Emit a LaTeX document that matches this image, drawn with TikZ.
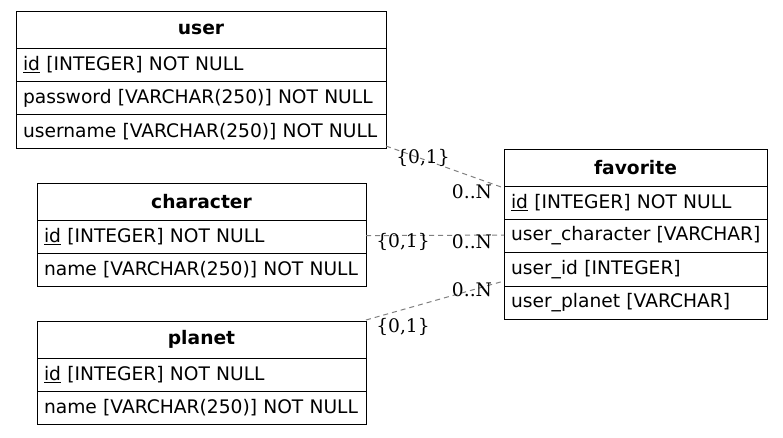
\documentclass[tikz,border=0pt]{standalone}
\usepackage{fontspec}
\setmainfont{DejaVu Sans}
\newfontfamily\cardfont{DejaVu Serif}
\usetikzlibrary{calc}
\begin{document}
\begin{tikzpicture}[x=0.75pt,y=-0.75pt,
  font=\fontsize{14pt}{16pt}\selectfont,
  cell/.style={draw=black, line width=0.75pt, anchor=north west, inner xsep=5.25pt,
    inner ysep=0pt, outer sep=0pt, align=left, minimum height=25pt},
  head/.style={cell, align=center, minimum height=27.75pt,
    font=\fontsize{14pt}{16pt}\selectfont\bfseries},
  userw/.style={text width=267pt},
  charw/.style={text width=236.25pt},
  favw/.style={text width=186.75pt},
  rel/.style={draw=gray, line width=0.75pt, dash pattern=on 3.75pt off 3pt},
  card/.style={inner sep=0pt, font=\fontsize{14pt}{16pt}\selectfont\cardfont}]
\useasboundingbox (0,0) rectangle (783,437);

% user
\node[head, userw] (uh) at (16,11) {user};
\node[cell, userw] (u1) at (uh.south west) {\underline{id} [INTEGER] NOT NULL};
\node[cell, userw] (u2) at (u1.south west) {password [VARCHAR(250)] NOT NULL};
\node[cell, userw] (u3) at (u2.south west) {username [VARCHAR(250)] NOT NULL};

% character
\node[head, charw] (ch) at (37,183) {character};
\node[cell, charw] (c1) at (ch.south west) {\underline{id} [INTEGER] NOT NULL};
\node[cell, charw] (c2) at (c1.south west) {name [VARCHAR(250)] NOT NULL};

% planet
\node[head, charw] (ph) at (37,321) {planet};
\node[cell, charw] (p1) at (ph.south west) {\underline{id} [INTEGER] NOT NULL};
\node[cell, charw] (p2) at (p1.south west) {name [VARCHAR(250)] NOT NULL};

% favorite
\node[head, favw] (fh) at (504,149) {favorite};
\node[cell, favw] (f1) at (fh.south west) {\underline{id} [INTEGER] NOT NULL};
\node[cell, favw] (f2) at (f1.south west) {\mbox{user\_character [VARCHAR]}};
\node[cell, favw] (f3) at (f2.south west) {user\_id [INTEGER]};
\node[cell, favw] (f4) at (f3.south west) {user\_planet [VARCHAR]};

% relations
\coordinate (r1a) at ($(u3.south east)+(0,-2)$);
\coordinate (r1b) at ($(fh.south west)+(0,2)$);
\draw[rel] (r1a) -- (r1b);
\coordinate (r2a) at ($(c1.east)+(0,-1)$);
\coordinate (r2b) at ($(f2.west)+(0,-1)$);
\draw[rel] (r2a) -- (r2b);
\coordinate (r3a) at ($(ph.north east)+(0,-1)$);
\coordinate (r3b) at ($(f3.south west)+(0,-5)$);
\draw[rel] (r3a) -- (r3b);

% cardinalities
\node[card] (k1a) at (423,158) {\{0,1\}};
\node[card] (k1b) at (472,192) {0..N};
\node[card] (k2a) at (403,242) {\{0,1\}};
\node[card] (k2b) at (472,242) {0..N};
\node[card] (k3a) at (403,327) {\{0,1\}};
\node[card] (k3b) at (472,290) {0..N};
\end{tikzpicture}
\end{document}
